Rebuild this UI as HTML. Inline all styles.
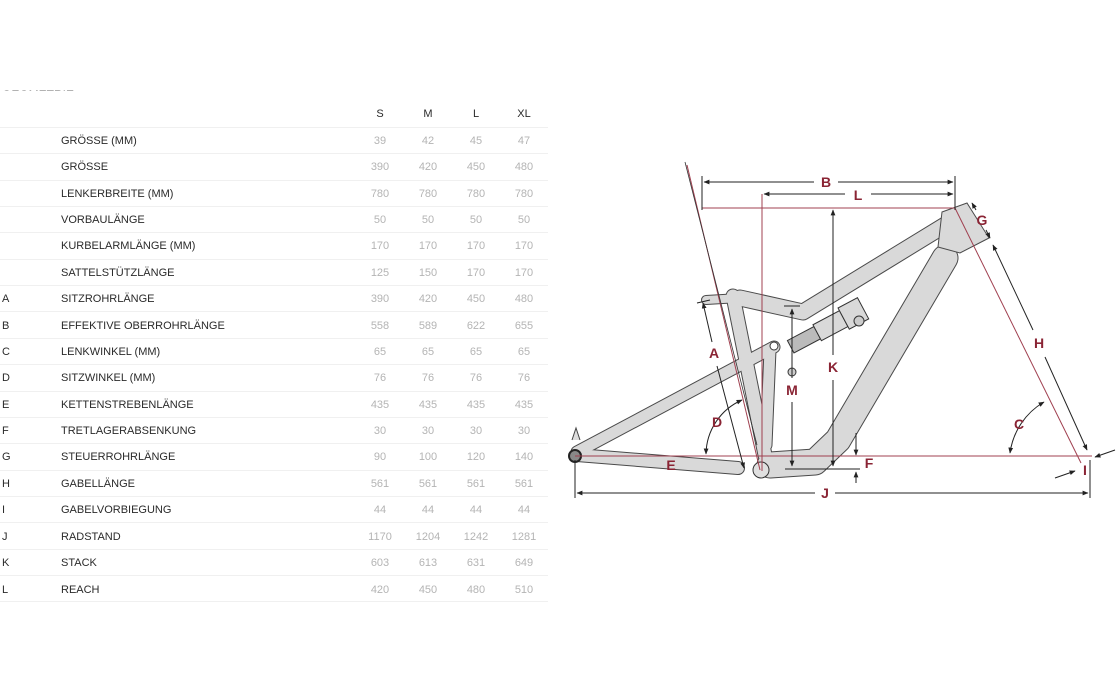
<!DOCTYPE html>
<html><head><meta charset="utf-8"><style>
html,body{margin:0;padding:0;background:#fff;}
svg{display:block;}
.n{font-family:"Liberation Sans",sans-serif;font-size:11px;fill:#2a2a2a;}
.v{font-family:"Liberation Sans",sans-serif;font-size:11px;fill:#b4b4b4;text-anchor:middle;}
.h{font-family:"Liberation Sans",sans-serif;font-size:11px;fill:#2a2a2a;text-anchor:middle;}
.lb{font-family:"Liberation Sans",sans-serif;font-size:14px;font-weight:bold;fill:#8a2434;text-anchor:middle;}
</style></head><body>
<svg width="1119" height="689" viewBox="0 0 1119 689" xmlns="http://www.w3.org/2000/svg">
<defs>
<marker id="ar" viewBox="0 0 10 10" refX="9" refY="5" markerWidth="6" markerHeight="6" orient="auto-start-reverse"><path d="M0,1 L10,5 L0,9 z" fill="#222"/></marker>
</defs>
<!-- clipped title -->
<svg x="0" y="84" width="120" height="7"><text x="2" y="15" class="n" style="font-size:12px;fill:#666">GEOMETRIE</text></svg>
<!-- table -->
<g>
<text x="380" y="117" class="h">S</text><text x="428" y="117" class="h">M</text><text x="476" y="117" class="h">L</text><text x="524" y="117" class="h">XL</text>
<g stroke="#f0f0f0" stroke-width="1">
<line x1="0" y1="127.5" x2="548" y2="127.5"/><line x1="0" y1="153.5" x2="548" y2="153.5"/><line x1="0" y1="180.5" x2="548" y2="180.5"/><line x1="0" y1="206.5" x2="548" y2="206.5"/><line x1="0" y1="232.5" x2="548" y2="232.5"/><line x1="0" y1="259.5" x2="548" y2="259.5"/><line x1="0" y1="285.5" x2="548" y2="285.5"/><line x1="0" y1="311.5" x2="548" y2="311.5"/><line x1="0" y1="338.5" x2="548" y2="338.5"/><line x1="0" y1="364.5" x2="548" y2="364.5"/><line x1="0" y1="391.5" x2="548" y2="391.5"/><line x1="0" y1="417.5" x2="548" y2="417.5"/><line x1="0" y1="443.5" x2="548" y2="443.5"/><line x1="0" y1="470.5" x2="548" y2="470.5"/><line x1="0" y1="496.5" x2="548" y2="496.5"/><line x1="0" y1="522.5" x2="548" y2="522.5"/><line x1="0" y1="549.5" x2="548" y2="549.5"/><line x1="0" y1="575.5" x2="548" y2="575.5"/><line x1="0" y1="601.5" x2="548" y2="601.5"/>
</g>
<text x="61" y="144" class="n">GRÖSSE (MM)</text><text x="380" y="144" class="v">39</text><text x="428" y="144" class="v">42</text><text x="476" y="144" class="v">45</text><text x="524" y="144" class="v">47</text>
<text x="61" y="170" class="n">GRÖSSE</text><text x="380" y="170" class="v">390</text><text x="428" y="170" class="v">420</text><text x="476" y="170" class="v">450</text><text x="524" y="170" class="v">480</text>
<text x="61" y="197" class="n">LENKERBREITE (MM)</text><text x="380" y="197" class="v">780</text><text x="428" y="197" class="v">780</text><text x="476" y="197" class="v">780</text><text x="524" y="197" class="v">780</text>
<text x="61" y="223" class="n">VORBAULÄNGE</text><text x="380" y="223" class="v">50</text><text x="428" y="223" class="v">50</text><text x="476" y="223" class="v">50</text><text x="524" y="223" class="v">50</text>
<text x="61" y="249" class="n">KURBELARMLÄNGE (MM)</text><text x="380" y="249" class="v">170</text><text x="428" y="249" class="v">170</text><text x="476" y="249" class="v">170</text><text x="524" y="249" class="v">170</text>
<text x="61" y="276" class="n">SATTELSTÜTZLÄNGE</text><text x="380" y="276" class="v">125</text><text x="428" y="276" class="v">150</text><text x="476" y="276" class="v">170</text><text x="524" y="276" class="v">170</text>
<text x="2" y="302" class="n">A</text><text x="61" y="302" class="n">SITZROHRLÄNGE</text><text x="380" y="302" class="v">390</text><text x="428" y="302" class="v">420</text><text x="476" y="302" class="v">450</text><text x="524" y="302" class="v">480</text>
<text x="2" y="329" class="n">B</text><text x="61" y="329" class="n">EFFEKTIVE OBERROHRLÄNGE</text><text x="380" y="329" class="v">558</text><text x="428" y="329" class="v">589</text><text x="476" y="329" class="v">622</text><text x="524" y="329" class="v">655</text>
<text x="2" y="355" class="n">C</text><text x="61" y="355" class="n">LENKWINKEL (MM)</text><text x="380" y="355" class="v">65</text><text x="428" y="355" class="v">65</text><text x="476" y="355" class="v">65</text><text x="524" y="355" class="v">65</text>
<text x="2" y="381" class="n">D</text><text x="61" y="381" class="n">SITZWINKEL (MM)</text><text x="380" y="381" class="v">76</text><text x="428" y="381" class="v">76</text><text x="476" y="381" class="v">76</text><text x="524" y="381" class="v">76</text>
<text x="2" y="408" class="n">E</text><text x="61" y="408" class="n">KETTENSTREBENLÄNGE</text><text x="380" y="408" class="v">435</text><text x="428" y="408" class="v">435</text><text x="476" y="408" class="v">435</text><text x="524" y="408" class="v">435</text>
<text x="2" y="434" class="n">F</text><text x="61" y="434" class="n">TRETLAGERABSENKUNG</text><text x="380" y="434" class="v">30</text><text x="428" y="434" class="v">30</text><text x="476" y="434" class="v">30</text><text x="524" y="434" class="v">30</text>
<text x="2" y="460" class="n">G</text><text x="61" y="460" class="n">STEUERROHRLÄNGE</text><text x="380" y="460" class="v">90</text><text x="428" y="460" class="v">100</text><text x="476" y="460" class="v">120</text><text x="524" y="460" class="v">140</text>
<text x="2" y="487" class="n">H</text><text x="61" y="487" class="n">GABELLÄNGE</text><text x="380" y="487" class="v">561</text><text x="428" y="487" class="v">561</text><text x="476" y="487" class="v">561</text><text x="524" y="487" class="v">561</text>
<text x="2" y="513" class="n">I</text><text x="61" y="513" class="n">GABELVORBIEGUNG</text><text x="380" y="513" class="v">44</text><text x="428" y="513" class="v">44</text><text x="476" y="513" class="v">44</text><text x="524" y="513" class="v">44</text>
<text x="2" y="540" class="n">J</text><text x="61" y="540" class="n">RADSTAND</text><text x="380" y="540" class="v">1170</text><text x="428" y="540" class="v">1204</text><text x="476" y="540" class="v">1242</text><text x="524" y="540" class="v">1281</text>
<text x="2" y="566" class="n">K</text><text x="61" y="566" class="n">STACK</text><text x="380" y="566" class="v">603</text><text x="428" y="566" class="v">613</text><text x="476" y="566" class="v">631</text><text x="524" y="566" class="v">649</text>
<text x="2" y="593" class="n">L</text><text x="61" y="593" class="n">REACH</text><text x="380" y="593" class="v">420</text><text x="428" y="593" class="v">450</text><text x="476" y="593" class="v">480</text><text x="524" y="593" class="v">510</text>
</g>

<!-- frame -->
<g fill="none" stroke-linecap="round" stroke-linejoin="round">
 <g stroke="#4a4a4a">
  <path d="M950,222 L803,312 L740,298" stroke-width="17"/>
  <path d="M945,258 L838,440 L815,462 L770,465" stroke-width="27"/>
  <path d="M733,296 L765,455" stroke-width="15"/>
  <path d="M577,455 L738,468" stroke-width="14"/>
  <path d="M577,452 L774,347" stroke-width="13"/>
  <path d="M770,350 L766,445" stroke-width="13"/>
  <path d="M706,300 L740,298" stroke-width="10"/>
 </g>
 <g stroke="#d9d9d9">
  <path d="M950,222 L803,312 L740,298" stroke-width="15"/>
  <path d="M945,258 L838,440 L815,462 L770,465" stroke-width="25"/>
  <path d="M733,296 L765,455" stroke-width="13"/>
  <path d="M577,455 L738,468" stroke-width="12"/>
  <path d="M577,452 L774,347" stroke-width="11"/>
  <path d="M770,350 L766,445" stroke-width="11"/>
  <path d="M706,300 L740,298" stroke-width="8"/>
 </g>
</g>
<polygon points="942,212 967,203 989,238 960,253 938,247" fill="#d9d9d9" stroke="#4a4a4a" stroke-width="1"/>
<!-- shock -->
<g transform="translate(826,328) rotate(-28)" stroke="#333" stroke-width="1" fill="#d9d9d9">
 <rect x="-40" y="-7" width="30" height="14" fill="#bbb"/>
 <rect x="-10" y="-9" width="30" height="18"/>
 <rect x="20" y="-12" width="22" height="24"/>
</g>
<circle cx="859" cy="321" r="5" fill="#ccc" stroke="#333"/>
<circle cx="774" cy="346" r="4" fill="#fff" stroke="#333"/>
<circle cx="792" cy="372" r="4" fill="#ccc" stroke="#333"/>
<circle cx="761" cy="470" r="8" fill="#e0e0e0" stroke="#333"/>
<circle cx="575" cy="456" r="6" fill="#888" stroke="#222" stroke-width="2"/>
<path d="M572,440 L576,428 L580,440" fill="#ddd" stroke="#444"/>

<!-- red lines -->
<g stroke="#a04050" stroke-width="1" fill="none">
 <line x1="702" y1="208" x2="955" y2="208"/>
 <line x1="762" y1="194" x2="762" y2="471"/>
 <line x1="687" y1="165" x2="760" y2="470"/>
 <line x1="955" y1="208" x2="1081" y2="463"/>
 <line x1="575" y1="456" x2="1092" y2="456"/>
</g>
<line x1="685" y1="162" x2="757" y2="445" stroke="#333" stroke-width="0.8"/>

<!-- dimension lines -->
<g stroke="#222" stroke-width="1" fill="none">
 <line x1="702" y1="176" x2="702" y2="210"/><line x1="955" y1="176" x2="955" y2="210"/>
 <line x1="704" y1="182" x2="814" y2="182" marker-start="url(#ar)"/><line x1="838" y1="182" x2="953" y2="182" marker-end="url(#ar)"/>
 <line x1="764" y1="194" x2="845" y2="194" marker-start="url(#ar)"/><line x1="871" y1="194" x2="953" y2="194" marker-end="url(#ar)"/>
 <line x1="833" y1="210" x2="833" y2="355" marker-start="url(#ar)"/><line x1="833" y1="380" x2="833" y2="466" marker-end="url(#ar)"/>
 <line x1="792" y1="309" x2="792" y2="378" marker-start="url(#ar)"/><line x1="792" y1="402" x2="792" y2="466" marker-end="url(#ar)"/>
 <line x1="784" y1="306" x2="800" y2="306"/><line x1="785" y1="469" x2="860" y2="469"/>
 <line x1="703" y1="303" x2="712" y2="342" marker-start="url(#ar)"/><line x1="717" y1="366" x2="744" y2="468" marker-end="url(#ar)"/>
 <line x1="697" y1="303" x2="710" y2="300"/>
 <line x1="575" y1="460" x2="575" y2="498"/><line x1="1090" y1="460" x2="1090" y2="498"/>
 <line x1="577" y1="493" x2="815" y2="493" marker-start="url(#ar)"/><line x1="835" y1="493" x2="1088" y2="493" marker-end="url(#ar)"/>
 <line x1="856" y1="433" x2="856" y2="455" marker-end="url(#ar)"/><line x1="856" y1="483" x2="856" y2="472" marker-end="url(#ar)"/>
 <line x1="993" y1="245" x2="1033" y2="330" marker-start="url(#ar)"/><line x1="1045" y1="357" x2="1087" y2="450" marker-end="url(#ar)"/>
 <line x1="972" y1="203" x2="976" y2="210" marker-start="url(#ar)"/><line x1="986" y1="230" x2="990" y2="238" marker-end="url(#ar)"/>
 <path d="M1010,453 A70,70 0 0 1 1044,402" marker-start="url(#ar)" marker-end="url(#ar)"/>
 <path d="M706,454 A60,60 0 0 1 742,400" marker-start="url(#ar)" marker-end="url(#ar)"/>
 <line x1="1055" y1="478" x2="1075" y2="471" marker-end="url(#ar)"/><line x1="1115" y1="450" x2="1095" y2="457" marker-end="url(#ar)"/>
</g>

<!-- labels -->
<text x="826" y="187" class="lb">B</text>
<text x="858" y="200" class="lb">L</text>
<text x="982" y="225" class="lb">G</text>
<text x="1039" y="348" class="lb">H</text>
<text x="833" y="372" class="lb">K</text>
<text x="792" y="395" class="lb">M</text>
<text x="714" y="358" class="lb">A</text>
<text x="717" y="427" class="lb">D</text>
<text x="1019" y="429" class="lb">C</text>
<text x="671" y="470" class="lb">E</text>
<text x="869" y="468" class="lb">F</text>
<text x="1085" y="475" class="lb">I</text>
<text x="825" y="498" class="lb">J</text>
</svg>
</body></html>
